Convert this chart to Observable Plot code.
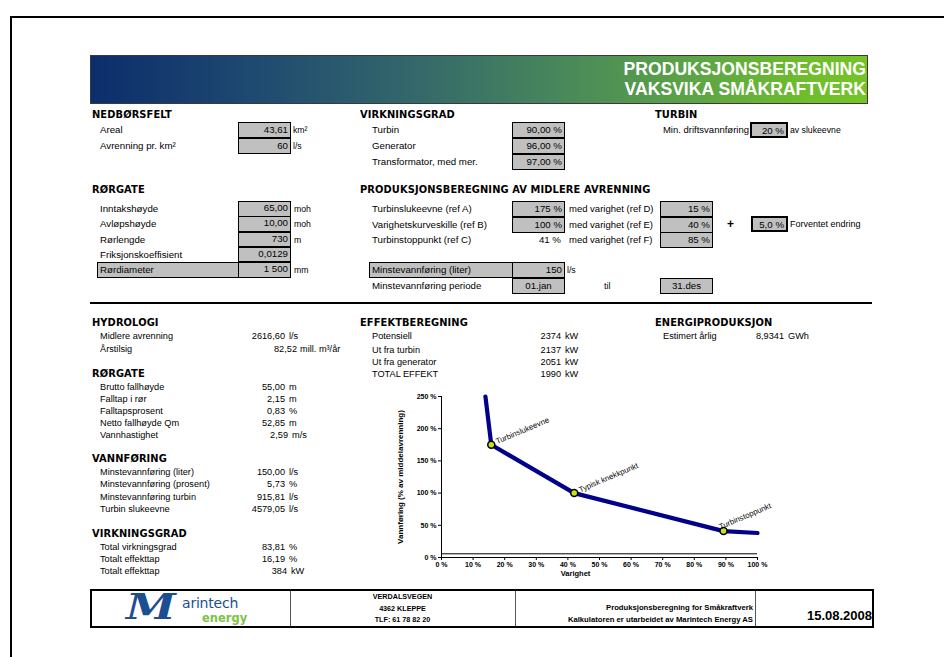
<!DOCTYPE html>
<html><head><meta charset="utf-8">
<script src="https://cdn.jsdelivr.net/npm/d3@7"></script>
<script src="https://cdn.jsdelivr.net/npm/@observablehq/plot@0.6"></script>
<style>
body{margin:0;background:#fff;}
#page{position:relative;width:944px;height:657px;overflow:hidden;font-family:"Liberation Sans",Arial,sans-serif;font-size:9.7px;color:#000;}
.a{position:absolute;white-space:nowrap;line-height:12px;height:12px;}
.h{font-family:"DejaVu Sans",sans-serif;font-weight:bold;font-size:9.9px;letter-spacing:0.1px;}
.box{position:absolute;background:#c0c0c0;border:1.5px solid #000;box-sizing:border-box;text-align:right;padding-right:2px;white-space:nowrap;font-size:9.7px;}
.ft{font-weight:bold;}
</style></head><body><div id="page"></div>
<script>
// ---------- DATA ----------
const titleLines = ["PRODUKSJONSBEREGNING", "VAKSVIKA SMÅKRAFTVERK"];

const nedborLabels = ["Areal", "Avrenning pr. km²"];
const nedborValues = ["43,61", "60"];
const nedborUnits = ["km²", "l/s"];

const rorInLabels = ["Inntakshøyde", "Avløpshøyde", "Rørlengde", "Friksjonskoeffisient", "Rørdiameter"];
const rorInValues = ["65,00", "10,00", "730", "0,0129", "1 500"];
const rorInUnits = ["moh", "moh", "m", "", "mm"];

const virkLabels = ["Turbin", "Generator", "Transformator, med mer."];
const virkValues = ["90,00 %", "96,00 %", "97,00 %"];

const turbinLabel = "Min. driftsvannføring";
const turbinValue = "20 %";
const turbinUnit = "av slukeevne";

const prodLabels = ["Turbinslukeevne (ref A)", "Varighetskurveskille (ref B)", "Turbinstoppunkt (ref C)"];
const prodValues = ["175 %", "100 %", "41 %"];
const varLabels = ["med varighet (ref D)", "med varighet (ref E)", "med varighet (ref F)"];
const varValues = ["15 %", "40 %", "85 %"];
const endringValue = "5,0 %";
const endringLabel = "Forventet endring";

const minsteLabels = ["Minstevannføring (liter)", "Minstevannføring periode"];
const minsteValue = "150";
const minsteUnit = "l/s";
const periodeFra = "01.jan", periodeTil = "31.des";

const hydroLabels = ["Midlere avrenning", "Årstilsig"];
const hydroValues = ["2616,60", "82,52"];
const hydroUnits = ["l/s", "mill. m³/år"];

const rorOutLabels = ["Brutto fallhøyde", "Falltap i rør", "Falltapsprosent", "Netto fallhøyde Qm", "Vannhastighet"];
const rorOutValues = ["55,00", "2,15", "0,83", "52,85", "2,59"];
const rorOutUnits = ["m", "m", "%", "m", "m/s"];

const vannLabels = ["Minstevannføring (liter)", "Minstevannføring (prosent)", "Minstevannføring turbin", "Turbin slukeevne"];
const vannValues = ["150,00", "5,73", "915,81", "4579,05"];
const vannUnits = ["l/s", "%", "l/s", "l/s"];

const virkOutLabels = ["Total virkningsgrad", "Totalt effekttap", "Totalt effekttap"];
const virkOutValues = ["83,81", "16,19", "384"];
const virkOutUnits = ["%", "%", "kW"];

const effektLabels = ["Potensiell", "Ut fra turbin", "Ut fra generator", "TOTAL EFFEKT"];
const effektValues = ["2374", "2137", "2051", "1990"];
const effektUnit = "kW";

const energiLabel = "Estimert årlig", energiValue = "8,9341", energiUnit = "GWh";

const footerAddress = ["VERDALSVEGEN", "4362 KLEPPE", "TLF: 61 78 82 20"];
const footerInfo = ["Produksjonsberegning for Småkraftverk", "Kalkulatoren er utarbeidet av Marintech Energy AS"];
const footerDate = "15.08.2008";
const logoWords = ["M", "arintech", "energy"];

// chart data
const curveVarighet = [13.9, 15.75, 42, 89.25, 100];
const curveVannforing = [250, 175, 100, 41, 38];
const pointVarighet = [15.75, 42, 89.25];
const pointVannforing = [175, 100, 41];
const pointLabels = ["Turbinslukeevne", "Typisk knekkpunkt", "Turbinstoppunkt"];
const minsteProsent = 5.73;
const xTicks = [0, 10, 20, 30, 40, 50, 60, 70, 80, 90, 100];
const yTicks = [0, 50, 100, 150, 200, 250];
const xLabel = "Varighet";
const yLabel = "Vannføring (% av middelavrenning)";

// ---------- LAYOUT ----------
const page = document.getElementById("page");
function el(tag, cls, style, text) {
  const d = document.createElement(tag);
  if (cls) d.className = cls;
  Object.assign(d.style, style || {});
  if (text != null) d.textContent = text;
  page.appendChild(d);
  return d;
}
function T(x, yc, s, cls, st) { return el("div", "a " + (cls || ""), Object.assign({left: x + "px", top: (yc - 6) + "px"}, st || {}), s); }
function TR(xr, yc, s, cls, st) { return el("div", "a " + (cls || ""), Object.assign({right: (944 - xr) + "px", top: (yc - 6) + "px", textAlign: "right"}, st || {}), s); }
function B(x1, y1, x2, y2, s, st) {
  return el("div", "box", Object.assign({left: x1 + "px", top: y1 + "px", width: (x2 - x1) + "px", height: (y2 - y1) + "px", lineHeight: (y2 - y1 - 3) + "px"}, st || {}), s);
}

// page frame
el("div", "", {position: "absolute", left: "10px", top: "16px", width: "960px", height: "700px", borderTop: "2px solid #000", borderLeft: "2px solid #000"});

// header banner
el("div", "", {position: "absolute", left: "90px", top: "55px", width: "778px", height: "49px", boxSizing: "border-box",
  border: "1.5px solid #3a3a3a",
  background: "linear-gradient(to right, #0c2d6c 0%, #1f4b70 22%, #34686a 42%, #4a8a5a 62%, #5fa842 80%, #6fbd2c 92%, #74c428 100%)"});
titleLines.forEach((t, i) => {
  el("div", "", {position: "absolute", right: (944 - 866) + "px", top: (60 + i * 20) + "px", color: "#fff", fontWeight: "bold",
    fontSize: "17.6px", lineHeight: "19px", fontFamily: "'Liberation Sans',Arial,sans-serif", whiteSpace: "nowrap"}, t);
});

// ---- top left: NEDBØRSFELT ----
T(92, 115, "NEDBØRSFELT", "h");
nedborLabels.forEach((l, i) => {
  const yc = 130 + i * 16;
  T(100, yc, l);
  B(238, 122 + i * 16, 291, 138 + i * 16, nedborValues[i]);
  T(293, yc, nedborUnits[i], "", {fontSize: "8.7px"});
});

// ---- RØRGATE (input) ----
T(92, 190, "RØRGATE", "h");
rorInLabels.forEach((l, i) => {
  const top = 201 + i * 15.3;
  const yc = top + 8;
  if (i === rorInLabels.length - 1) {
    B(97, top, 239, top + 15.5, "", {textAlign: "left"});
  }
  T(100, yc, l);
  B(238, top, 291, top + 15.5, rorInValues[i]);
  T(294, yc, rorInUnits[i], "", {fontSize: "8.7px"});
});

// ---- VIRKNINGSGRAD (input) ----
T(360, 115, "VIRKNINGSGRAD", "h");
virkLabels.forEach((l, i) => {
  T(372, 130 + i * 16, l);
  B(512, 122 + i * 16, 565, 138 + i * 16, virkValues[i]);
});

// ---- TURBIN ----
T(655, 115, "TURBIN", "h");
TR(749, 130, turbinLabel, "", {fontSize: "9.5px"});
B(750, 122, 788, 138, turbinValue, {border: "2px solid #000"});
T(790, 130, turbinUnit, "", {fontSize: "8.7px"});

// ---- PRODUKSJONSBEREGNING ----
T(360, 190, "PRODUKSJONSBEREGNING AV MIDLERE AVRENNING", "h");
prodLabels.forEach((l, i) => {
  const top = 201 + i * 15.5;
  const yc = top + 8;
  T(372, yc, l);
  if (i < 2) B(512, top, 565, top + 16, prodValues[i]);
  else TR(561, yc, prodValues[i]);
  T(569, yc, varLabels[i], "", {fontSize: "9.5px"});
  B(660, top, 713, top + 16, varValues[i]);
});
T(727, 224, "+", "", {fontSize: "12px", fontWeight: "bold"});
B(751, 216, 788, 232, endringValue, {border: "2px solid #000"});
T(790, 224, endringLabel, "", {fontSize: "9px"});

B(369, 262, 513, 278, "");
T(372, 270, minsteLabels[0]);
B(512, 262, 565, 278, minsteValue);
T(567, 270, minsteUnit, "", {fontSize: "8.7px"});
T(372, 286, minsteLabels[1]);
B(512, 278, 565, 294, periodeFra, {textAlign: "center", paddingRight: "0"});
T(604, 286, "til", "", {fontSize: "9px"});
B(660, 278, 713, 294, periodeTil, {textAlign: "center", paddingRight: "0"});

// separator
el("div", "", {position: "absolute", left: "90px", top: "302px", width: "782px", height: "2px", background: "#000"});

// ---- bottom left ----
function section(title, ty, labels, values, units, y0, step, xr, xu) {
  T(92, ty, title, "h");
  labels.forEach((l, i) => {
    const yc = y0 + i * step;
    T(100, yc, l, "", {fontSize: "9.2px"});
    TR(Array.isArray(xr) ? xr[i] : xr, yc, values[i], "", {fontSize: "9.2px"});
    T(Array.isArray(xu) ? xu[i] : xu, yc, units[i], "", {fontSize: "9.2px"});
  });
}
section("HYDROLOGI", 323, hydroLabels, hydroValues, hydroUnits, 336, 13, [285, 297], [289, 300]);
section("RØRGATE", 374, rorOutLabels, rorOutValues, rorOutUnits, 387, 12.1, [285, 285, 285, 285, 288], [289, 289, 289, 289, 292]);
section("VANNFØRING", 459, vannLabels, vannValues, vannUnits, 472, 12.3, 285, 289);
section("VIRKNINGSGRAD", 534, virkOutLabels, virkOutValues, virkOutUnits, 547, 12.2, [285, 285, 287], [289, 289, 291]);

// ---- EFFEKTBEREGNING ----
T(360, 323, "EFFEKTBEREGNING", "h");
effektLabels.forEach((l, i) => {
  const yc = [336, 350, 362, 374][i];
  T(372, yc, l, "", {fontSize: "9.2px"});
  TR(561, yc, effektValues[i], "", {fontSize: "9.2px"});
  T(565, yc, effektUnit, "", {fontSize: "9.2px"});
});

// ---- ENERGIPRODUKSJON ----
T(655, 323, "ENERGIPRODUKSJON", "h");
T(663, 336, energiLabel, "", {fontSize: "9.2px"});
TR(784, 336, energiValue, "", {fontSize: "9.2px"});
T(788, 336, energiUnit, "", {fontSize: "9.2px"});

// ---- footer ----
el("div", "", {position: "absolute", left: "90px", top: "589px", width: "784px", height: "39px", boxSizing: "border-box", border: "2.5px solid #000"});
[290, 515, 755].forEach(x => el("div", "", {position: "absolute", left: x + "px", top: "591px", width: "1px", height: "35px", background: "#555"}));
footerAddress.forEach((t, i) => {
  el("div", "a ft", {left: "290px", width: "225px", textAlign: "center", top: (591 + i * 11.5) + "px", fontSize: "7.2px", lineHeight: "11px", height: "11px"}, t);
});
footerInfo.forEach((t, i) => {
  TR(753, 608 + i * 12, t, "ft", {fontSize: "7.7px"});
});
TR(872, 616, footerDate, "", {fontFamily: "'Liberation Sans Narrow','Liberation Sans',sans-serif", fontWeight: "bold", fontSize: "13px", lineHeight: "14px", height: "14px", top: "609px"});
// logo
el("div", "", {position: "absolute", left: "126px", top: "587px", fontFamily: "'DejaVu Serif',serif", fontWeight: "bold", fontStyle: "italic",
  fontSize: "36px", lineHeight: "38px", height: "38px", color: "#1b4f91", transform: "scaleX(1.25)", transformOrigin: "left"}, logoWords[0]);
el("div", "", {position: "absolute", left: "182px", top: "595px", fontFamily: "'DejaVu Sans',sans-serif", fontSize: "14px", lineHeight: "16px", height: "16px", color: "#1b4f91", letterSpacing: "-0.2px"}, logoWords[1]);
el("div", "", {position: "absolute", left: "202px", top: "612px", fontFamily: "'DejaVu Sans',sans-serif", fontWeight: "bold", fontSize: "11.5px", lineHeight: "13px", height: "13px", color: "#7dc242"}, logoWords[2]);

// ---------- CHART ----------
const curve = curveVarighet.map((x, i) => ({x, y: curveVannforing[i]}));
const points = pointLabels.map((t, i) => ({x: pointVarighet[i], y: pointVannforing[i], t}));

const chart = Plot.plot({
  width: 400, height: 195,
  marginLeft: 61, marginTop: 11, marginRight: 23, marginBottom: 23,
  x: {domain: [0, 100]},
  y: {domain: [0, 250]},
  style: {fontFamily: "'Liberation Sans',Arial,sans-serif", fontSize: "7px", background: "transparent", overflow: "visible"},
  marks: [
    Plot.axisX({ticks: xTicks, tickFormat: d => d + " %", tickSize: 3, tickPadding: 2, label: null, fontWeight: "bold"}),
    Plot.axisY({ticks: yTicks, tickFormat: d => d + " %", tickSize: 3, tickPadding: 2, label: null, fontWeight: "bold"}),
    Plot.ruleX([0], {stroke: "#000"}),
    Plot.ruleY([0], {stroke: "#000"}),
    Plot.ruleY([minsteProsent], {stroke: "#000"}),
    Plot.line(curve, {x: "x", y: "y", stroke: "#00008b", strokeWidth: 4.2}),
    Plot.dot(points, {x: "x", y: "y", r: 3.5, fill: "#c6e01a", stroke: "#000", strokeWidth: 1.5}),
    Plot.text(points.slice(0, 2), {x: "x", y: "y", text: "t", rotate: -23, textAnchor: "start", dx: 5, dy: -3, fontSize: 7.8}),
    Plot.text(points.slice(2), {x: "x", y: "y", text: "t", rotate: -23, textAnchor: "start", dx: -4, dy: -4, fontSize: 7.8}),
    Plot.text([xLabel], {frameAnchor: "bottom", text: d => d, dy: 18, dx: -24, fontWeight: "bold", fontSize: 7.5}),
    Plot.text([yLabel], {frameAnchor: "left", text: d => d, rotate: -90, textAnchor: "middle", dx: -41, fontWeight: "bold", fontSize: 8})
  ]
});
const holder = el("div", "", {position: "absolute", left: "380px", top: "385px"});
holder.appendChild(chart);
</script></body></html>
